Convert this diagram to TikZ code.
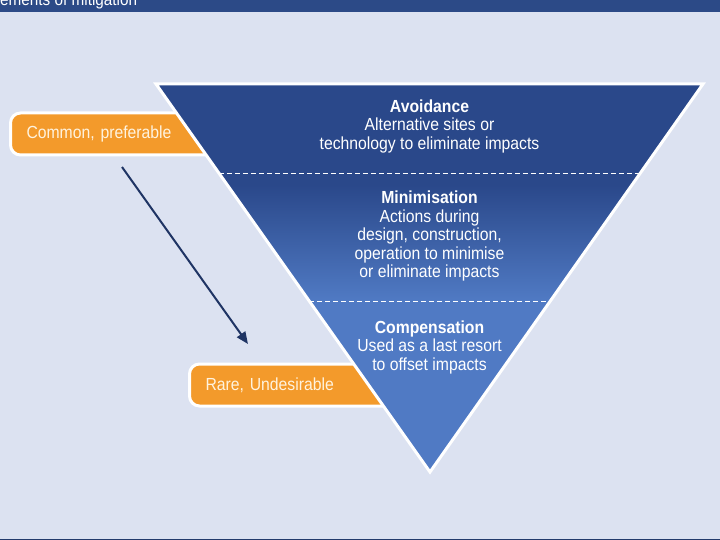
\documentclass[tikz,border=0pt]{standalone}
\usepackage{fontspec}
\setmainfont{Liberation Sans}[FakeStretch=0.9]
\usepackage{xcolor}
\usetikzlibrary{arrows.meta,positioning,calc}
\definecolor{pagebg}{RGB}{220,226,241}
\definecolor{barblue}{RGB}{44,74,135}
\definecolor{topblue}{RGB}{42,72,138}
\definecolor{lowblue}{RGB}{80,122,196}
\definecolor{tagorange}{RGB}{243,154,43}
\definecolor{tagtext}{RGB}{255,243,222}
\definecolor{arrowblue}{RGB}{31,52,100}

\begin{document}
\begin{tikzpicture}[
    x=1pt, y=-1pt,
    tag/.style={anchor=north west, fill=tagorange, draw=white, line width=3pt, rounded corners=10pt,
      minimum height=42pt, text width=200pt, inner xsep=16pt, align=left, text=tagtext,
      font=\fontsize{17.5}{19}\selectfont},
    tier/.style={align=center, text=white, font=\fontsize{17.5}{18.5}\selectfont},
    cut/.style={white, line width=0.8pt, dash pattern=on 5pt off 3pt},
    flow/.style={-{Triangle[length=12pt,width=10pt]}, arrowblue, line width=2pt}
  ]
    \useasboundingbox (0,0) rectangle (720,540);
    \clip (0,0) rectangle (720,540);
    \fill[pagebg] (0,0) rectangle (720,540);
    \fill[barblue] (0,0) rectangle (720,12);
    \fill[barblue!80!black] (0,538.5) rectangle (720,540);
    \node[anchor=base west, inner sep=0pt, text=white, font=\fontsize{17}{19}\selectfont] (title) at (-13.6,6) {Elements of mitigation};

    % orange tags, their right ends go under the triangle
    \node[tag] (common) at (9,111.5) {Common, preferable};
    \node[tag] (rare) at (188,362.5) {Rare, Undesirable};

    % the triangle
    \coordinate (tl) at (156,84);
    \coordinate (tr) at (703,84);
    \coordinate (tip) at (430,472);
    \begin{scope}
      \clip (tl) -- (tr) -- (tip) -- cycle;
      \fill[topblue] (140,70) rectangle (720,185);
      \shade[top color=topblue, bottom color=lowblue] (140,185) rectangle (720,301);
      \fill[lowblue] (140,301) rectangle (720,490);
    \end{scope}
    \draw[white, line width=3pt] (tl) -- (tr) -- (tip) -- cycle;

    \coordinate (cut1l) at ($(tl)!0.2294!(tip)$);
    \coordinate (cut1r) at ($(tr)!0.2294!(tip)$);
    \coordinate (cut2l) at ($(tl)!0.5593!(tip)$);
    \coordinate (cut2r) at ($(tr)!0.5593!(tip)$);
    \draw[cut] (cut1l) -- (cut1r);
    \draw[cut] (cut2l) -- (cut2r);

    \node[tier] (avoid) at (429.5,126) {\textbf{Avoidance}\\Alternative sites or\\technology to eliminate impacts};
    \node[tier] (minim) at (429.5,236) {\textbf{Minimisation}\\Actions during\\design, construction,\\operation to minimise\\or eliminate impacts};
    \node[tier] (comp) at (429.5,347) {\textbf{Compensation}\\Used as a last resort\\to offset impacts};

    \coordinate (from) at (122,167);
    \coordinate (to) at (248,344);
    \draw[flow] (from) -- (to);
  \end{tikzpicture}
\end{document}
